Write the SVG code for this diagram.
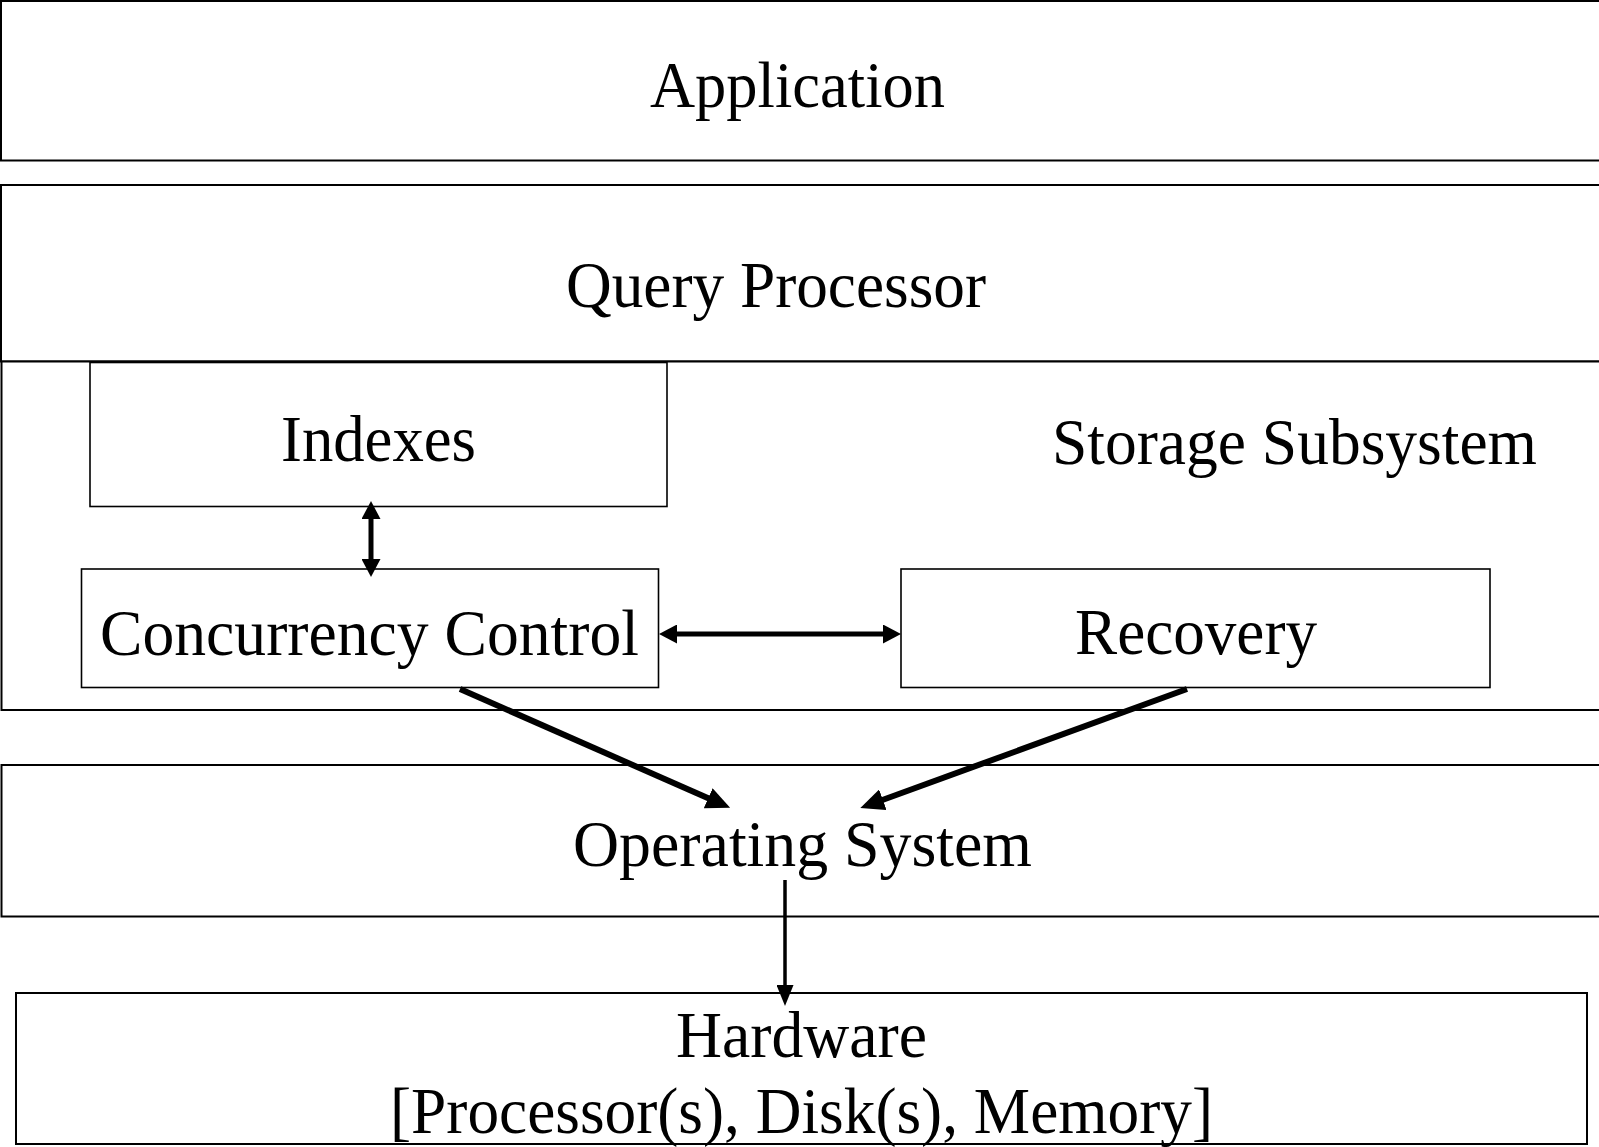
<svg xmlns="http://www.w3.org/2000/svg" width="1599" height="1147" viewBox="0 0 1599 1147">
<style>
  .layer { fill: #ffffff; stroke: #000000; stroke-width: 2; }
  .inner { fill: #ffffff; stroke: #000000; stroke-width: 1.6; }
  .lbl { font-family: "Liberation Serif", "Times New Roman", serif; font-size: 66px; fill: #000000; }
  .conn { stroke: #000000; fill: none; }
</style>
<defs>
  <marker id="headM" markerUnits="userSpaceOnUse" markerWidth="19" markerHeight="19" viewBox="0 0 19 19" refX="2" refY="9.5" orient="auto-start-reverse">
    <path d="M0,0 L18,9.5 L0,19 z" fill="#000000"/>
  </marker>
  <marker id="headL" markerUnits="userSpaceOnUse" markerWidth="24" markerHeight="22" viewBox="0 0 24 22" refX="2" refY="11" orient="auto">
    <path d="M0,0 L24,11 L0,22 z" fill="#000000"/>
  </marker>
  <marker id="headS" markerUnits="userSpaceOnUse" markerWidth="21" markerHeight="17" viewBox="0 0 21 17" refX="2" refY="8.5" orient="auto">
    <path d="M0,0 L21,8.5 L0,17 z" fill="#000000"/>
  </marker>
</defs>
<rect width="1599" height="1147" fill="#ffffff"/>

<g id="application">
  <rect class="layer" x="1" y="1" width="1610" height="159.5"/>
  <text class="lbl" x="650" y="107" font-size="67" textLength="295" lengthAdjust="spacingAndGlyphs">Application</text>
</g>

<g id="query-processor">
  <rect class="layer" x="1" y="185" width="1610" height="176.5"/>
  <text class="lbl" x="566" y="307" textLength="420" lengthAdjust="spacingAndGlyphs">Query Processor</text>
</g>

<g id="storage-subsystem">
  <rect class="layer" x="1.5" y="361.5" width="1610" height="348.5"/>
  <text class="lbl" x="1052" y="464" textLength="485" lengthAdjust="spacingAndGlyphs">Storage Subsystem</text>
</g>

<g id="indexes">
  <rect class="inner" x="90" y="362.5" width="577" height="144"/>
  <text class="lbl" x="281" y="461" textLength="195" lengthAdjust="spacingAndGlyphs">Indexes</text>
</g>

<g id="concurrency-control">
  <rect class="inner" x="81.5" y="569" width="577" height="118.5"/>
  <text class="lbl" x="100" y="655" textLength="539" lengthAdjust="spacingAndGlyphs">Concurrency Control</text>
</g>

<g id="recovery">
  <rect class="inner" x="901" y="569" width="589" height="118.5"/>
  <text class="lbl" x="1075" y="654" textLength="242" lengthAdjust="spacingAndGlyphs">Recovery</text>
</g>

<g id="operating-system">
  <rect class="layer" x="1.5" y="765" width="1610" height="151.5"/>
  <text class="lbl" x="573" y="866" textLength="459" lengthAdjust="spacingAndGlyphs">Operating System</text>
</g>

<g id="hardware">
  <rect class="layer" x="16" y="993" width="1571" height="151"/>
  <text class="lbl" x="676" y="1057" textLength="251" lengthAdjust="spacingAndGlyphs">Hardware</text>
  <text class="lbl" x="390" y="1133" textLength="823" lengthAdjust="spacingAndGlyphs">[Processor(s), Disk(s), Memory]</text>
</g>

<g id="connectors">
  <line class="conn" x1="371" y1="517" x2="371" y2="561" stroke-width="5" marker-start="url(#headM)" marker-end="url(#headM)"/>
  <line class="conn" x1="675" y1="634" x2="885" y2="634" stroke-width="5" marker-start="url(#headM)" marker-end="url(#headM)"/>
  <line class="conn" x1="460" y1="689" x2="710" y2="799" stroke-width="6" marker-end="url(#headL)"/>
  <line class="conn" x1="1187" y1="689" x2="881" y2="800.5" stroke-width="6" marker-end="url(#headL)"/>
  <line class="conn" x1="785" y1="880" x2="785" y2="987" stroke-width="3.5" marker-end="url(#headS)"/>
</g>
</svg>
